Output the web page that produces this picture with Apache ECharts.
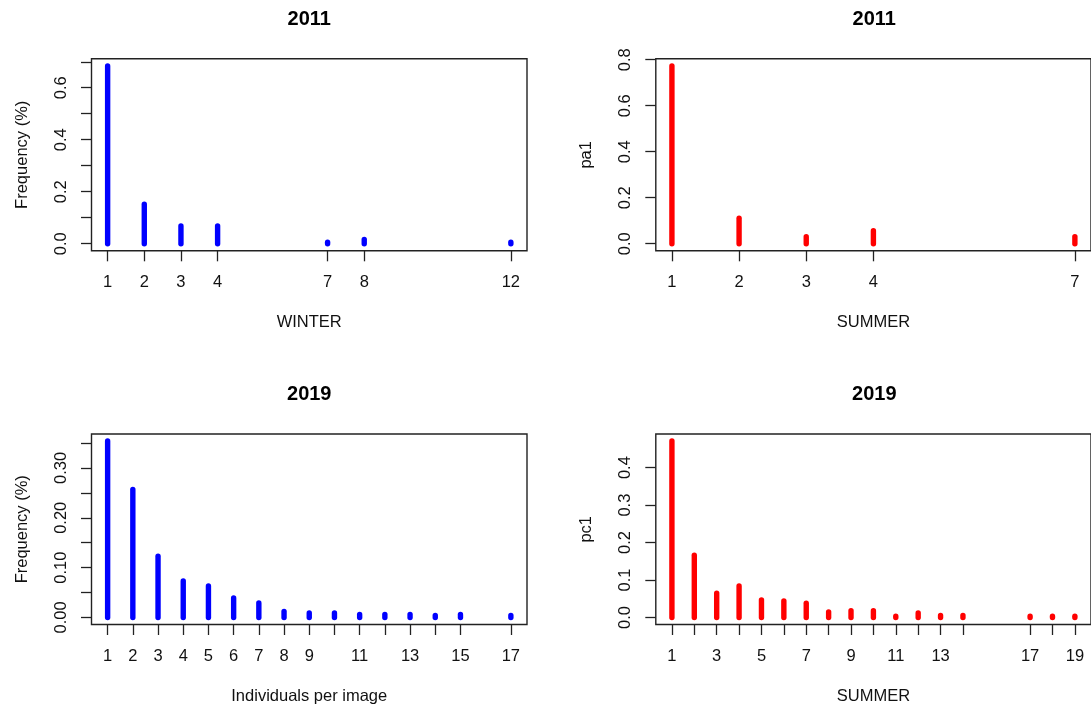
<!DOCTYPE html>
<html>
<head>
<meta charset="utf-8">
<title>Individuals per image</title>
<script src="https://cdn.jsdelivr.net/npm/echarts@6/dist/echarts.min.js"></script>
<style>
  html, body { margin: 0; padding: 0; background: #fff; }
  #chart { width: 1091px; height: 706px; }
</style>
</head>
<body>
<div id="chart"></div>
<script>
// Frequency of the number of individuals per image, by season and year
const winter2011X = [1, 2, 3, 4, 7, 8, 12];
const winter2011Freq = [0.684, 0.152, 0.068, 0.068, 0.006, 0.016, 0.006];
const winter2011Ticks = [1, 2, 3, 4, 7, 8, 12];
const winter2011Labels = [1, 2, 3, 4, 7, 8, 12];

const summer2011X = [1, 2, 3, 4, 7];
const summer2011Freq = [0.773, 0.111, 0.030, 0.056, 0.030];
const summer2011Ticks = [1, 2, 3, 4, 7];
const summer2011Labels = [1, 2, 3, 4, 7];

const winter2019X = [1, 2, 3, 4, 5, 6, 7, 8, 9, 10, 11, 12, 13, 14, 15, 17];
const winter2019Freq = [0.354, 0.257, 0.123, 0.073, 0.063, 0.039, 0.029, 0.012,
                        0.009, 0.009, 0.006, 0.006, 0.006, 0.004, 0.006, 0.004];
const winter2019Ticks = [1, 2, 3, 4, 5, 6, 7, 8, 9, 10, 11, 12, 13, 14, 15, 17];
const winter2019Labels = [1, 2, 3, 4, 5, 6, 7, 8, 9, 11, 13, 15, 17];

const summer2019X = [1, 2, 3, 4, 5, 6, 7, 8, 9, 10, 11, 12, 13, 14, 17, 18, 19];
const summer2019Freq = [0.471, 0.166, 0.065, 0.084, 0.047, 0.044, 0.038, 0.015,
                        0.018, 0.018, 0.003, 0.012, 0.005, 0.005, 0.003, 0.003, 0.003];
const summer2019Ticks = [1, 2, 3, 4, 5, 6, 7, 8, 9, 10, 11, 12, 13, 14, 17, 18, 19];
const summer2019Labels = [1, 3, 5, 7, 9, 11, 13, 17, 19];

const yTicks2011W = [0, 0.1, 0.2, 0.3, 0.4, 0.5, 0.6, 0.7];
const yLabels2011W = [0, 0.2, 0.4, 0.6];
const yTicks2011S = [0, 0.2, 0.4, 0.6, 0.8];
const yLabels2011S = [0, 0.2, 0.4, 0.6, 0.8];
const yTicks2019W = [0, 0.05, 0.10, 0.15, 0.20, 0.25, 0.30, 0.35];
const yLabels2019W = [0, 0.10, 0.20, 0.30];
const yTicks2019S = [0, 0.1, 0.2, 0.3, 0.4];
const yLabels2019S = [0, 0.1, 0.2, 0.3, 0.4];

const FONT = 'Liberation Sans, Arial, Helvetica, sans-serif';
const INK = '#111';
const BLUE = '#0000ff';
const RED = '#ff0000';

// range padded by 4% on each side, as a base-graphics plot does
function padded(values) {
  const lo = Math.min.apply(null, values), hi = Math.max.apply(null, values);
  const d = (hi - lo) * 0.04;
  return [lo - d, hi + d];
}

const panels = [
  { x: winter2011X, y: winter2011Freq, xt: winter2011Ticks, xl: winter2011Labels,
    yt: yTicks2011W, yl: yLabels2011W, dec: 1, color: BLUE,
    xname: 'WINTER', yname: 'Frequency (%)', title: '2011',
    grid: { left: 91.5, top: 58.8, width: 435.5, height: 192 } },
  { x: summer2011X, y: summer2011Freq, xt: summer2011Ticks, xl: summer2011Labels,
    yt: yTicks2011S, yl: yLabels2011S, dec: 1, color: RED,
    xname: 'SUMMER', yname: 'pa1', title: '2011',
    grid: { left: 655.8, top: 58.8, width: 437, height: 192 } },
  { x: winter2019X, y: winter2019Freq, xt: winter2019Ticks, xl: winter2019Labels,
    yt: yTicks2019W, yl: yLabels2019W, dec: 2, color: BLUE,
    xname: 'Individuals per image', yname: 'Frequency (%)', title: '2019',
    grid: { left: 91.5, top: 434, width: 435.5, height: 192.2 } },
  { x: summer2019X, y: summer2019Freq, xt: summer2019Ticks, xl: summer2019Labels,
    yt: yTicks2019S, yl: yLabels2019S, dec: 1, color: RED,
    xname: 'SUMMER', yname: 'pc1', title: '2019',
    grid: { left: 655.8, top: 434, width: 437, height: 192.2 } }
];

function stem(color) {
  return function (params, api) {
    const xv = api.value(0), yv = api.value(1);
    const base = api.coord([xv, 0]);
    const tip = api.coord([xv, yv]);
    return {
      type: 'line',
      shape: { x1: base[0], y1: base[1], x2: tip[0], y2: tip[1] },
      style: { stroke: color, lineWidth: 5.4, lineCap: 'round' }
    };
  };
}

const grids = [], xAxes = [], yAxes = [], series = [], graphics = [];
panels.forEach(function (p, i) {
  grids.push(Object.assign({
    show: true, borderColor: '#222', borderWidth: 1.4, backgroundColor: 'transparent'
  }, p.grid));

  const xr = padded(p.x);
  const yr = padded([0].concat(p.y));

  xAxes.push({
    type: 'value', gridIndex: i, min: xr[0], max: xr[1],
    name: p.xname, nameLocation: 'middle', nameGap: 63.5,
    nameTextStyle: { fontFamily: FONT, fontSize: 16.5, color: INK },
    axisLine: { show: false, onZero: false },
    axisTick: { show: true, inside: false, length: 10.5, customValues: p.xt,
                lineStyle: { color: '#222', width: 1.3 } },
    axisLabel: { show: true, customValues: p.xl, margin: 23,
                 fontFamily: FONT, fontSize: 16.5, color: INK,
                 formatter: function (v) { return String(Math.round(v)); } },
    splitLine: { show: false }
  });

  yAxes.push({
    type: 'value', gridIndex: i, min: yr[0], max: yr[1],
    name: p.yname, nameLocation: 'middle', nameGap: 61, nameRotate: 90,
    nameTextStyle: { fontFamily: FONT, fontSize: 16.5, color: INK },
    axisLine: { show: false, onZero: false },
    axisTick: { show: true, inside: false, length: 10.5, customValues: p.yt,
                lineStyle: { color: '#222', width: 1.3 } },
    axisLabel: { show: true, customValues: p.yl, margin: 22, rotate: 90,
                 fontFamily: FONT, fontSize: 16.5, color: INK,
                 formatter: (function (dec) {
                   return function (v) { return v.toFixed(dec); };
                 })(p.dec) },
    splitLine: { show: false }
  });

  series.push({
    type: 'custom', xAxisIndex: i, yAxisIndex: i,
    data: p.x.map(function (xv, k) { return [xv, p.y[k]]; }),
    renderItem: stem(p.color),
    encode: { x: 0, y: 1 },
    silent: true
  });

  graphics.push({
    type: 'text',
    x: p.grid.left + p.grid.width / 2,
    y: p.grid.top - 39.3,
    style: {
      text: p.title, fill: '#000', fontFamily: FONT, fontSize: 20,
      fontWeight: 'bold', align: 'center', verticalAlign: 'middle'
    }
  });
});

const chart = echarts.init(document.getElementById('chart'), null, { renderer: 'canvas' });
chart.setOption({
  backgroundColor: '#ffffff',
  animation: false,
  grid: grids,
  xAxis: xAxes,
  yAxis: yAxes,
  series: series,
  graphic: graphics
});
</script>
</body>
</html>
